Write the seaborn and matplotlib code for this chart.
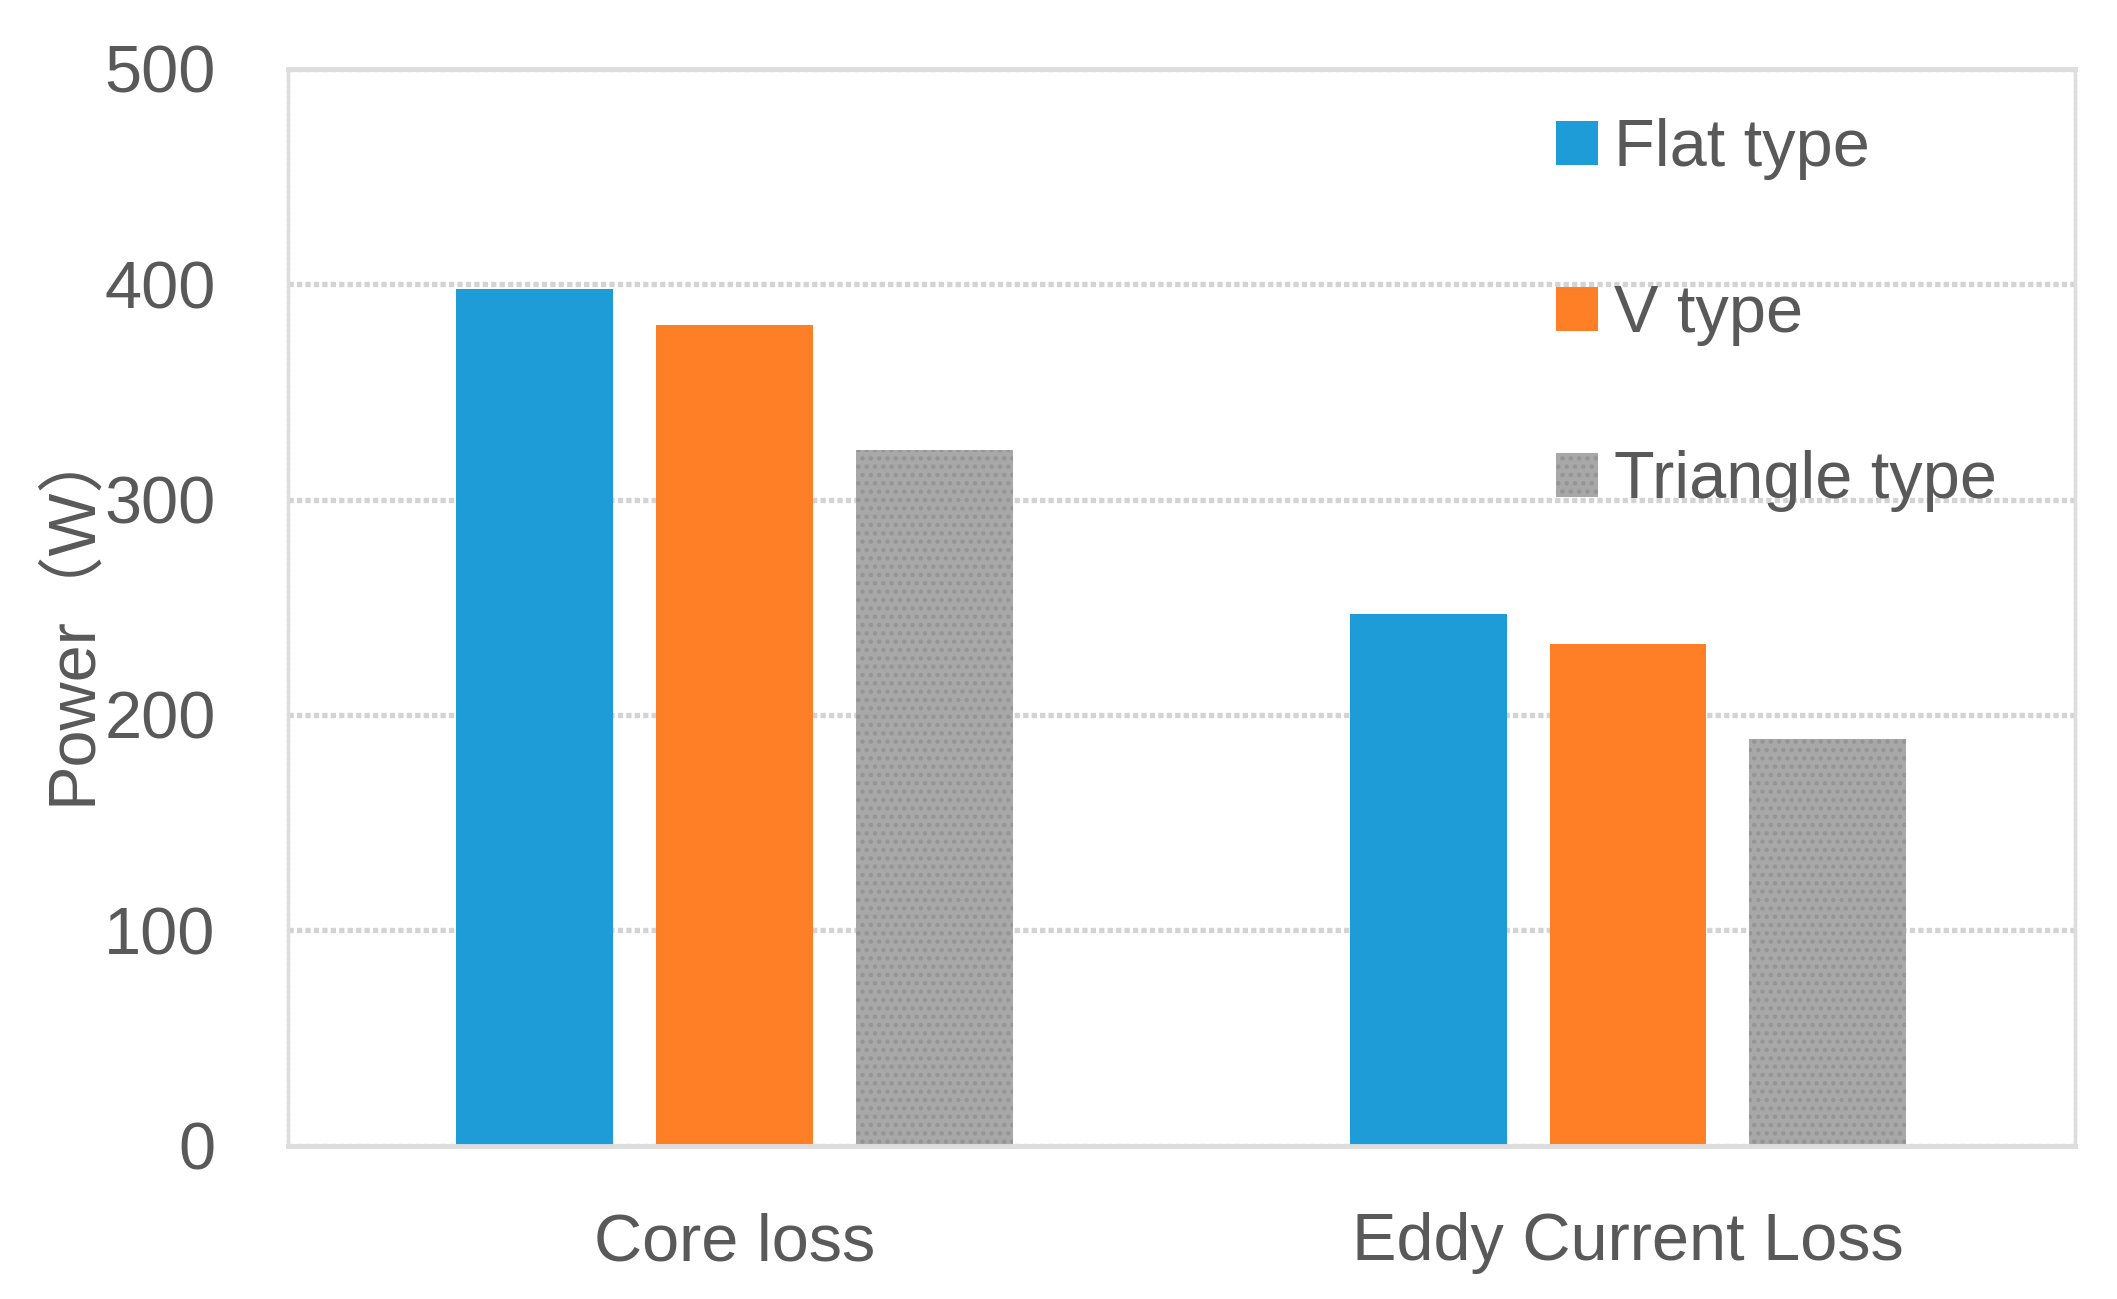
import pandas as pd
import seaborn as sns
from matplotlib import pyplot as plt
from matplotlib.patches import Patch

# valores (W)
categories = ['Core loss', 'Eddy Current Loss']
series_names = ['Flat type', 'V type', 'Triangle type']
flat_values = [398, 247]
v_values = [381, 233]
triangle_values = [323, 189]
y_ticks = [0, 100, 200, 300, 400, 500]

colors = ['#1D9CD8', '#FE7F26', '#A8A8A8']
text_color = '#595959'
grid_color = '#D3D3D3'

df = pd.DataFrame({
    'category': categories * 3,
    'type': [s for s in series_names for _ in categories],
    'power': flat_values + v_values + triangle_values,
})

sns.set_style('white')
plt.rcParams['font.family'] = ['Liberation Sans', 'Noto Sans CJK SC', 'DejaVu Sans']
plt.rcParams['hatch.linewidth'] = 2.0

fig, ax = plt.subplots(figsize=(21.17, 12.99), dpi=100)
fig.subplots_adjust(left=0.136, right=0.980, top=0.947, bottom=0.118)

sns.barplot(data=df, x='category', y='power', hue='type', hue_order=series_names,
            palette=colors, width=0.671, gap=0.215, saturation=1, ax=ax,
            linewidth=0, legend=False)

# patron gris de la serie triangle
for bar in ax.containers[2]:
    bar.set_hatch('..')
    bar.set_edgecolor('#959595')
    bar.set_linewidth(0)

ax.set_ylim(0, 500)
ax.set_yticks(y_ticks)
ax.set_xlim(-0.5, 1.5)
ax.yaxis.grid(True, color=grid_color, linestyle=(0, (1, 0.6)), linewidth=3.8)
ax.set_axisbelow(True)

for side in ['left', 'right']:
    ax.spines[side].set_color('#DDDDDD')
    ax.spines[side].set_linewidth(2.5)
    ax.spines[side].set_linestyle((0, (1, 0.6)))
for side in ['top', 'bottom']:
    ax.spines[side].set_color('#DDDDDD')
    ax.spines[side].set_linewidth(3.5)

ax.tick_params(axis='both', length=0, labelsize=48, labelcolor=text_color)
ax.tick_params(axis='y', pad=52)
ax.tick_params(axis='x', pad=48)

ax.set_xlabel('')
ax.set_ylabel('Power（W）', fontsize=48, color=text_color)
ax.yaxis.set_label_coords(-0.103, 0.495)

handles = [Patch(facecolor=colors[0], linewidth=0),
           Patch(facecolor=colors[1], linewidth=0),
           Patch(facecolor=colors[2], edgecolor='#959595', hatch='..', linewidth=0)]
ax.legend(handles, series_names, loc='upper left', bbox_to_anchor=(0.735, 0.909),
          bbox_transform=fig.transFigure, frameon=False, fontsize=48,
          labelcolor=text_color, handlelength=0.63, handleheight=0.63,
          handletextpad=0.24, labelspacing=1.56, borderpad=0, borderaxespad=0)

fig.savefig('out.png', dpi=100)
